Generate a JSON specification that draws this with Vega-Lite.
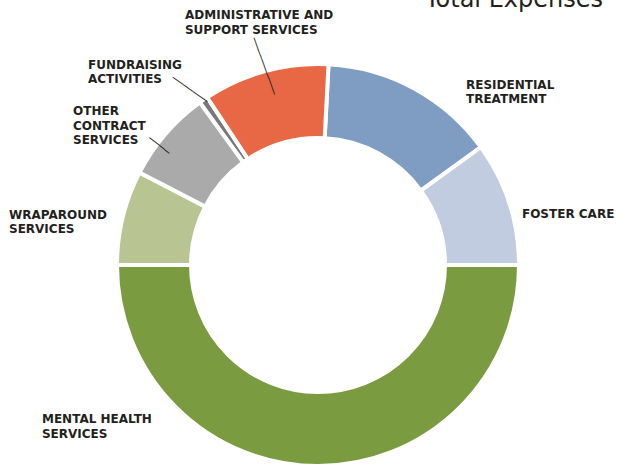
{
  "$schema": "https://vega.github.io/schema/vega-lite/v6.json",
  "width": 610,
  "height": 398,
  "autosize": {"type": "none"},
  "padding": {"left": 13, "top": 66, "right": 0, "bottom": 0},
  "background": "white",
  "config": {"view": {"stroke": null}},
  "title": {
    "text": "Total Expenses",
    "anchor": "end",
    "frame": "group",
    "font": "DejaVu Sans",
    "fontSize": 24,
    "fontWeight": "normal",
    "color": "#231f20",
    "baseline": "alphabetic",
    "offset": 3,
    "dx": -20,
    "dy": 63
  },
  "data": {
    "values": [
      {"cat": "Residential Treatment", "label": "RESIDENTIAL\nTREATMENT", "v": 14.2, "idx": 1},
      {"cat": "Foster Care", "label": "FOSTER CARE", "v": 9.97, "idx": 2},
      {"cat": "Mental Health Services", "label": "MENTAL HEALTH\nSERVICES", "v": 50.0, "idx": 3},
      {"cat": "Wraparound Services", "label": "WRAPAROUND\nSERVICES", "v": 7.6, "idx": 4},
      {"cat": "Other Contract Services", "label": "OTHER\nCONTRACT\nSERVICES", "v": 7.4, "idx": 5},
      {"cat": "Fundraising Activities", "label": "FUNDRAISING\nACTIVITIES", "v": 0.7, "idx": 6},
      {"cat": "Administrative and Support Services", "label": "ADMINISTRATIVE AND\nSUPPORT SERVICES", "v": 10.13, "idx": 7}
    ]
  },
  "encoding": {
    "theta": {"field": "v", "type": "quantitative", "stack": true, "scale": {"range": [0.05236, 6.33555]}},
    "order": {"field": "idx", "type": "quantitative"}
  },
  "layer": [
    {
      "mark": {"type": "arc", "outerRadius": 201, "innerRadius": 127, "stroke": "white", "strokeWidth": 4},
      "encoding": {
        "color": {
          "field": "cat",
          "type": "nominal",
          "legend": null,
          "scale": {
            "domain": ["Residential Treatment", "Foster Care", "Mental Health Services", "Wraparound Services", "Other Contract Services", "Fundraising Activities", "Administrative and Support Services"],
            "range": ["#7f9dc3", "#c1cce0", "#7a9b3f", "#b8c492", "#aaaaab", "#787878", "#e86744"]
          }
        }
      }
    },
    {
      "mark": {"type": "text", "radius": 225, "dx": 40.4, "dy": 21.6, "align": "left", "baseline": "alphabetic", "lineBreak": "\n", "lineHeight": 14.5, "font": "DejaVu Sans", "fontSize": 12, "fontWeight": "bold", "fill": "#231f20"},
      "encoding": {"text": {"condition": {"test": "datum.cat === 'Residential Treatment'", "field": "label"}, "value": ""}}
    },
    {
      "mark": {"type": "text", "radius": 225, "dx": -10.1, "dy": 22.3, "align": "left", "baseline": "alphabetic", "lineBreak": "\n", "lineHeight": 14.5, "font": "DejaVu Sans", "fontSize": 12, "fontWeight": "bold", "fill": "#231f20"},
      "encoding": {"text": {"condition": {"test": "datum.cat === 'Foster Care'", "field": "label"}, "value": ""}}
    },
    {
      "mark": {"type": "text", "radius": 225, "dx": -276, "dy": -67, "align": "left", "baseline": "alphabetic", "lineBreak": "\n", "lineHeight": 14.5, "font": "DejaVu Sans", "fontSize": 12, "fontWeight": "bold", "fill": "#231f20"},
      "encoding": {"text": {"condition": {"test": "datum.cat === 'Mental Health Services'", "field": "label"}, "value": ""}}
    },
    {
      "mark": {"type": "text", "radius": 225, "dx": -90.4, "dy": 7.2, "align": "left", "baseline": "alphabetic", "lineBreak": "\n", "lineHeight": 14.5, "font": "DejaVu Sans", "fontSize": 12, "fontWeight": "bold", "fill": "#231f20"},
      "encoding": {"text": {"condition": {"test": "datum.cat === 'Wraparound Services'", "field": "label"}, "value": ""}}
    },
    {
      "mark": {"type": "text", "radius": 225, "dx": -74.4, "dy": -3.3, "align": "left", "baseline": "alphabetic", "lineBreak": "\n", "lineHeight": 14.5, "font": "DejaVu Sans", "fontSize": 12, "fontWeight": "bold", "fill": "#231f20"},
      "encoding": {"text": {"condition": {"test": "datum.cat === 'Other Contract Services'", "field": "label"}, "value": ""}}
    },
    {
      "mark": {"type": "text", "radius": 225, "dx": -101.8, "dy": -11.1, "align": "left", "baseline": "alphabetic", "lineBreak": "\n", "lineHeight": 14.5, "font": "DejaVu Sans", "fontSize": 12, "fontWeight": "bold", "fill": "#231f20"},
      "encoding": {"text": {"condition": {"test": "datum.cat === 'Fundraising Activities'", "field": "label"}, "value": ""}}
    },
    {
      "mark": {"type": "text", "radius": 225, "dx": -73.9, "dy": -28.9, "align": "left", "baseline": "alphabetic", "lineBreak": "\n", "lineHeight": 14.5, "font": "DejaVu Sans", "fontSize": 12, "fontWeight": "bold", "fill": "#231f20"},
      "encoding": {"text": {"condition": {"test": "datum.cat === 'Administrative and Support Services'", "field": "label"}, "value": ""}}
    },
    {
      "mark": {"type": "text", "radius": 206, "angle": 70, "align": "center", "baseline": "middle", "font": "DejaVu Sans Mono", "fontSize": 10, "fill": "#231f20"},
      "encoding": {"text": {"condition": {"test": "datum.cat === 'Administrative and Support Services'", "value": "──────────"}, "value": ""}}
    },
    {
      "mark": {"type": "text", "radius": 216.7, "angle": 35.2, "dx": -1.9, "dy": 5.1, "align": "center", "baseline": "middle", "font": "DejaVu Sans Mono", "fontSize": 10, "fill": "#231f20"},
      "encoding": {"text": {"condition": {"test": "datum.cat === 'Fundraising Activities'", "value": "───────"}, "value": ""}}
    },
    {
      "mark": {"type": "text", "radius": 198.2, "angle": 38.7, "dx": -0.4, "dy": 13.4, "align": "center", "baseline": "middle", "font": "DejaVu Sans Mono", "fontSize": 10.5, "fill": "#231f20"},
      "encoding": {"text": {"condition": {"test": "datum.cat === 'Other Contract Services'", "value": "────"}, "value": ""}}
    }
  ]
}
